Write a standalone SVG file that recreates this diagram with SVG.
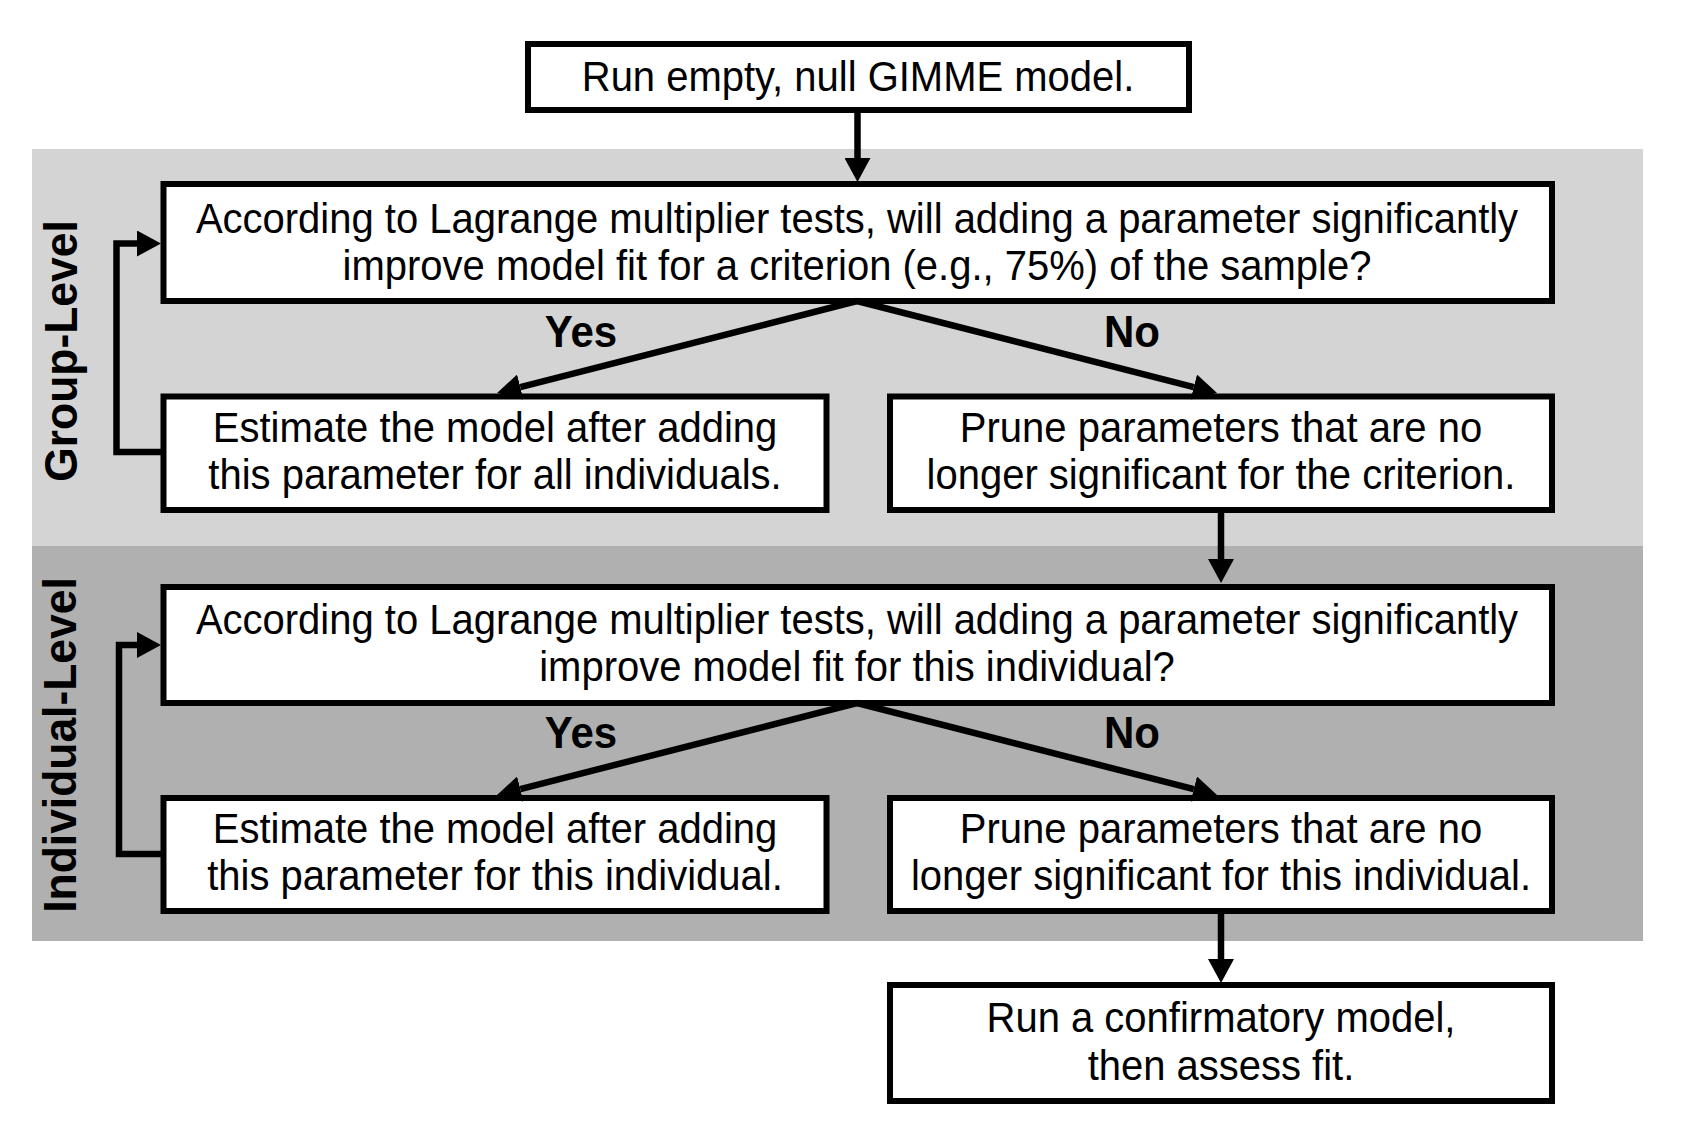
<svg xmlns="http://www.w3.org/2000/svg" width="1695" height="1129" viewBox="0 0 1695 1129">
<style>
.box{fill:#ffffff;stroke:#000000;stroke-width:6}
.t{font-family:"Liberation Sans",Arial,sans-serif;font-size:42px;fill:#000;text-anchor:middle}
.lbl{font-family:"Liberation Sans",Arial,sans-serif;font-size:44px;font-weight:bold;fill:#000;text-anchor:middle}
.side{font-family:"Liberation Sans",Arial,sans-serif;font-size:47px;font-weight:bold;fill:#000;text-anchor:middle}
.c{fill:none;stroke:#000;stroke-width:6.5;stroke-linejoin:miter;marker-end:url(#ah)}
</style>
<defs>
<marker id="ah" viewBox="0 0 24 26" refX="0" refY="13" markerWidth="24" markerHeight="26" markerUnits="userSpaceOnUse" orient="auto">
<path d="M0,0 L24,13 L0,26 Z" fill="#000"/>
</marker>
</defs>
<rect width="1695" height="1129" fill="#ffffff"/>
<g id="bands">
<rect x="32" y="149" width="1611" height="397" fill="#d4d4d4"/>
<rect x="32" y="546" width="1611" height="395" fill="#b0b0b0"/>
<text class="side" transform="translate(77 351) rotate(-90) scale(0.945 1)">Group-Level</text>
<text class="side" transform="translate(76 745) rotate(-90) scale(0.945 1)">Individual-Level</text>
</g>
<g id="start">
<rect class="box" x="528" y="44" width="661" height="66"/>
<text class="t" transform="translate(858 91) scale(0.952 1)">Run empty, null GIMME model.</text>
</g>
<g id="group-test">
<rect class="box" x="163.5" y="184" width="1388.5" height="117"/>
<text class="t" transform="translate(857 233) scale(0.952 1)">According to Lagrange multiplier tests, will adding a parameter significantly</text>
<text class="t" transform="translate(857 280) scale(0.952 1)">improve model fit for a criterion (e.g., 75%) of the sample?</text>
</g>
<g id="group-estimate">
<rect class="box" x="163.5" y="396.5" width="663" height="113.5"/>
<text class="t" transform="translate(495 442) scale(0.952 1)">Estimate the model after adding</text>
<text class="t" transform="translate(495 489) scale(0.952 1)">this parameter for all individuals.</text>
</g>
<g id="group-prune">
<rect class="box" x="890" y="396.5" width="662" height="113.5"/>
<text class="t" transform="translate(1221 442) scale(0.952 1)">Prune parameters that are no</text>
<text class="t" transform="translate(1221 489) scale(0.952 1)">longer significant for the criterion.</text>
</g>
<g id="ind-test">
<rect class="box" x="163.5" y="587" width="1388.5" height="116"/>
<text class="t" transform="translate(857 634) scale(0.952 1)">According to Lagrange multiplier tests, will adding a parameter significantly</text>
<text class="t" transform="translate(857 681) scale(0.952 1)">improve model fit for this individual?</text>
</g>
<g id="ind-estimate">
<rect class="box" x="163.5" y="798" width="663" height="113"/>
<text class="t" transform="translate(495 843) scale(0.952 1)">Estimate the model after adding</text>
<text class="t" transform="translate(495 890) scale(0.952 1)">this parameter for this individual.</text>
</g>
<g id="ind-prune">
<rect class="box" x="890" y="798" width="662" height="113"/>
<text class="t" transform="translate(1221 843) scale(0.952 1)">Prune parameters that are no</text>
<text class="t" transform="translate(1221 890) scale(0.952 1)">longer significant for this individual.</text>
</g>
<g id="confirm">
<rect class="box" x="890" y="985" width="662" height="116"/>
<text class="t" transform="translate(1221 1032) scale(0.952 1)">Run a confirmatory model,</text>
<text class="t" transform="translate(1221 1080) scale(0.952 1)">then assess fit.</text>
</g>
<g id="connectors">
<path class="c" d="M857.5 113 V158"/>
<path class="c" d="M857 301 L520.3 387.1"/>
<path class="c" d="M857 301 L1193.8 387.1"/>
<path class="c" d="M161 452 H116.5 V243.5 H137"/>
<path class="c" d="M1221 513 V559"/>
<path class="c" d="M857 703 L520.3 789.1"/>
<path class="c" d="M857 703 L1193.8 789.1"/>
<path class="c" d="M161 854 H119 V645 H137"/>
<path class="c" d="M1221 914 V959"/>
<text class="lbl" transform="translate(581 347) scale(0.955 1)">Yes</text>
<text class="lbl" transform="translate(1132 347) scale(0.955 1)">No</text>
<text class="lbl" transform="translate(581 748) scale(0.955 1)">Yes</text>
<text class="lbl" transform="translate(1132 748) scale(0.955 1)">No</text>
</g>
</svg>
